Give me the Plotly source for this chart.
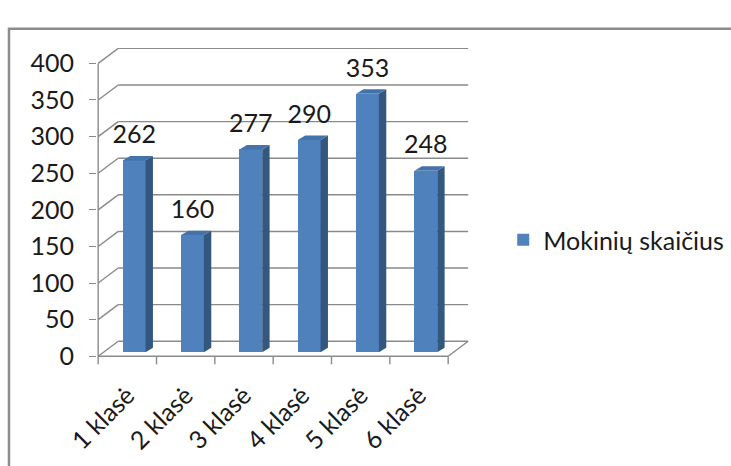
import plotly.graph_objects as go

# ---- data ----
categories = ["1 klasė", "2 klasė", "3 klasė", "4 klasė", "5 klasė", "6 klasė"]
values = [262, 160, 277, 290, 353, 248]
series_name = "Mokinių skaičius"
y_ticks = [0, 50, 100, 150, 200, 250, 300, 350, 400]

# ---- styling / pseudo-3D geometry (in axis units) ----
WALL_DX, WALL_DY = 0.343, 20.5      # depth of the back wall
BAR_W = 0.39                          # bar front-face width (category units)
BAR_SHIFT = 0.117                     # front face shift to the right
BAR_BASE = 5.5                        # front face lifted by depth
BAR_DX, BAR_DY = 0.127, 6.0           # bar depth
LABEL_PAD = 15.0
GRID = "#8a8a8a"
FRONT = "#4F81BD"
SIDE = "#34577F"
TOP = "#4473AC"
FONT = "Lato"
FS = 25

n = len(categories)
idx = list(range(n))
x_left, x_right = -0.5, n - 0.5

fig = go.Figure()

# front faces
fig.add_trace(go.Bar(
    x=idx, y=values, base=BAR_BASE, width=BAR_W, offset=-BAR_W / 2 + BAR_SHIFT,
    marker=dict(color=FRONT, line=dict(width=0)), name=series_name, showlegend=True,
))

# side and top faces
sx, sy = [], []
tx, ty = [], []
for i, v in zip(idx, values):
    xl = i - BAR_W / 2 + BAR_SHIFT
    xr = i + BAR_W / 2 + BAR_SHIFT
    top = BAR_BASE + v
    sx += [xr, xr + BAR_DX, xr + BAR_DX, xr, xr, None]
    sy += [BAR_BASE, BAR_BASE + BAR_DY, top + BAR_DY, top, BAR_BASE, None]
    tx += [xl, xr, xr + BAR_DX, xl + BAR_DX, xl, None]
    ty += [top, top, top + BAR_DY, top + BAR_DY, top, None]
fig.add_trace(go.Scatter(x=sx, y=sy, mode="lines", fill="toself", fillcolor=SIDE,
                         line=dict(width=0, color=SIDE), showlegend=False, hoverinfo="skip"))
fig.add_trace(go.Scatter(x=tx, y=ty, mode="lines", fill="toself", fillcolor=TOP,
                         line=dict(width=0, color=TOP), showlegend=False, hoverinfo="skip"))

# data labels
fig.add_trace(go.Scatter(
    x=[i + BAR_SHIFT for i in idx], y=[v + BAR_BASE + LABEL_PAD for v in values],
    mode="text", text=[str(v) for v in values], textposition="top center",
    textfont=dict(family=FONT, size=FS, color="#1a1a1a"), showlegend=False, hoverinfo="skip",
))

# walls / gridlines as shapes below traces
shapes = []
def seg(x0, y0, x1, y1):
    shapes.append(dict(type="line", xref="x", yref="y", x0=x0, y0=y0, x1=x1, y1=y1,
                       line=dict(color=GRID, width=1.4), layer="below"))

for v in y_ticks:
    seg(x_left, v, x_left + WALL_DX, v + WALL_DY)
    seg(x_left + WALL_DX, v + WALL_DY, x_right + WALL_DX, v + WALL_DY)
# front value axis
seg(x_left, 0, x_left, y_ticks[-1])
# floor front edge and right edge
seg(x_left, 0, x_right, 0)
seg(x_right, 0, x_right + WALL_DX, WALL_DY)
# category boundary ticks
for b in range(n + 1):
    shapes.append(dict(type="line", xref="x", yref="y", x0=b - 0.5, x1=b - 0.5, y0=0, y1=-11,
                       line=dict(color=GRID, width=1.4), layer="below"))

# outer chart border
shapes.append(dict(type="rect", xref="paper", yref="paper", x0=-0.2366, x1=1.75, y0=-0.4, y1=1.06,
                   line=dict(color="#8c8c8c", width=2.5), fillcolor="rgba(0,0,0,0)", layer="below"))

fig.update_layout(
    width=731, height=466,
    margin=dict(l=97, r=262, t=48, b=98, autoexpand=False),
    paper_bgcolor="white", plot_bgcolor="rgba(0,0,0,0)",
    shapes=shapes,
    showlegend=True,
    legend=dict(x=1.092, y=0.40, xanchor="left", yanchor="middle",
                font=dict(family=FONT, size=FS, color="#1a1a1a"), bgcolor="rgba(0,0,0,0)"),
    xaxis=dict(range=[-0.52, 5.857], tickmode="array", tickvals=idx, ticktext=categories,
               tickangle=-45, ticks="", showgrid=False, zeroline=False, showline=False,
               ticklabelstandoff=7, automargin=False,
               tickfont=dict(family=FONT, size=FS, color="#1a1a1a")),
    yaxis=dict(range=[-16, 421], tickmode="array", tickvals=y_ticks, ticks="outside", ticklen=7,
               tickcolor=GRID, tickwidth=1.4, showgrid=False, zeroline=False, showline=False,
               ticklabelstandoff=10, automargin=False,
               tickfont=dict(family=FONT, size=FS, color="#1a1a1a")),
    bargap=0,
)

fig.write_html("out.html")
